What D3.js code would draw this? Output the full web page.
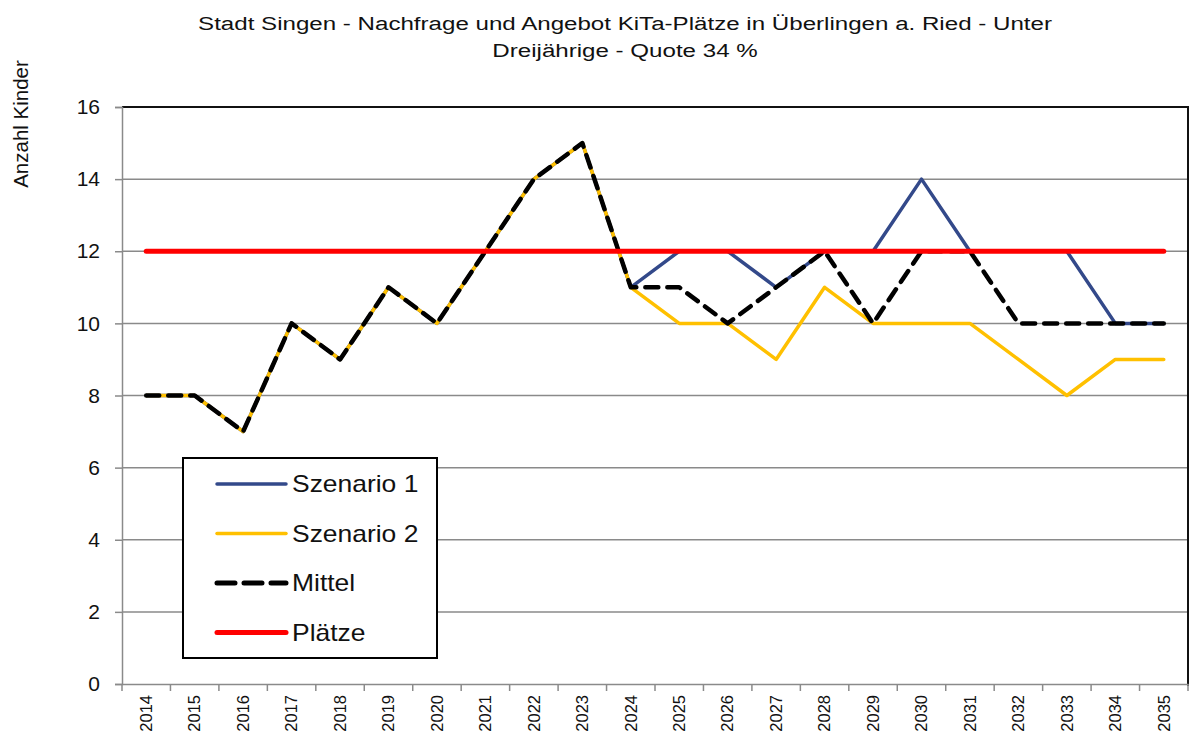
<!DOCTYPE html>
<html><head><meta charset="utf-8">
<script src="https://cdn.jsdelivr.net/npm/d3@7"></script>
<style>body{margin:0;background:#fff;} svg{display:block;font-family:Arial,"Liberation Sans",sans-serif;}</style>
</head><body>
<svg id="c" width="1193" height="744"></svg>
<script>
const years = ["2014","2015","2016","2017","2018","2019","2020","2021","2022","2023","2024","2025","2026","2027","2028","2029","2030","2031","2032","2033","2034","2035"];
const szenario1 = [8,8,7,10,9,11,10,12,14,15,11,12,12,11,12,12,14,12,12,12,10,10];
const szenario2 = [8,8,7,10,9,11,10,12,14,15,11,10,10,9,11,10,10,10,9,8,9,9];
const mittel    = [8,8,7,10,9,11,10,12,14,15,11,11,10,11,12,10,12,12,10,10,10,10];
const plaetze   = [12,12,12,12,12,12,12,12,12,12,12,12,12,12,12,12,12,12,12,12,12,12];
const yTicks = [0,2,4,6,8,10,12,14,16];
const titleLines = ["Stadt Singen - Nachfrage und Angebot KiTa-Plätze in Überlingen a. Ried - Unter","Dreijährige - Quote 34 %"];
const yLabel = "Anzahl Kinder";

const series = [
  {name:"Szenario 1", values:szenario1, color:"#33498A", width:3.5, dash:null, ldash:null},
  {name:"Szenario 2", values:szenario2, color:"#FFC000", width:3.5, dash:null, ldash:null},
  {name:"Mittel", values:mittel, color:"#000000", width:4.5, dash:"13,9", ldash:"18,9"},
  {name:"Plätze", values:plaetze, color:"#FF0000", width:5, dash:null, ldash:null}
];

const svg = d3.select("#c");
const L=122, R=1188, T=107, B=684;
const x = d3.scaleBand().domain(years).range([L,R]).padding(0);
const y = d3.scaleLinear().domain([0,16]).range([B,T]);

// gridlines
svg.append("g").selectAll("line").data(yTicks.filter(v=>v>0 && v<16)).join("line")
  .attr("x1",L).attr("x2",R).attr("y1",d=>y(d)).attr("y2",d=>y(d))
  .attr("stroke","#8a8a8a").attr("stroke-width",1.5);

// plot border top/right
svg.append("path").attr("d",`M${L},${T}H${R}V${B+2}`).attr("fill","none").attr("stroke","#111").attr("stroke-width",2);

// y axis
const ya = svg.append("g").attr("transform",`translate(${L},0)`)
  .call(d3.axisLeft(y).tickValues(yTicks).tickSize(7).tickPadding(15).tickFormat(d3.format("d")));
ya.select(".domain").attr("stroke","#8a8a8a").attr("stroke-width",1.5);
ya.selectAll(".tick line").attr("stroke","#8a8a8a").attr("stroke-width",1.5);
ya.selectAll("text").attr("font-size",21).attr("fill","#111").style("font-family","Arial, 'Liberation Sans', sans-serif");

// x axis
const xa = svg.append("g").attr("transform",`translate(0,${B})`)
  .call(d3.axisBottom(x).tickSize(0).tickPadding(0));
xa.select(".domain").attr("stroke","#8a8a8a").attr("stroke-width",1.5);
xa.selectAll(".tick text").attr("font-size",16.5).attr("fill","#111")
  .attr("text-anchor","end").attr("dy","0.35em")
  .attr("transform","translate(0,11) rotate(-90)")
  .attr("x",0).attr("y",0)
  .style("font-family","Arial, 'Liberation Sans', sans-serif");
// boundary ticks
const bounds = years.map(d=>x(d)).concat([R]);
svg.append("g").selectAll("line").data(bounds).join("line")
  .attr("x1",d=>d).attr("x2",d=>d).attr("y1",B).attr("y2",B+7)
  .attr("stroke","#8a8a8a").attr("stroke-width",1.5);

// lines
const line = d3.line().x((d,i)=>x(years[i])+x.bandwidth()/2).y(d=>y(d));
series.forEach(s=>{
  svg.append("path").datum(s.values).attr("d",line)
    .attr("fill","none").attr("stroke",s.color).attr("stroke-width",s.width)
    .attr("stroke-dasharray",s.dash).attr("stroke-linejoin","round")
    .attr("stroke-linecap","round");
});

// title
svg.append("g").selectAll("text").data(titleLines).join("text")
  .attr("transform",(d,i)=>`translate(625,${30+i*27}) scale(1.27,1)`).attr("text-anchor","middle")
  .attr("font-size",19).attr("fill","#111").text(d=>d);

// y label
svg.append("text").attr("transform","translate(28,124) rotate(-90)")
  .attr("text-anchor","middle").attr("font-size",20.5).attr("fill","#111").text(yLabel);

// legend
const lg = svg.append("g");
lg.append("rect").attr("x",183).attr("y",458).attr("width",254).attr("height",200)
  .attr("fill","#fff").attr("stroke","#000").attr("stroke-width",2);
series.forEach((s,i)=>{
  const yy = 484 + i*49.5;
  lg.append("line").attr("x1",217).attr("x2",286).attr("y1",yy).attr("y2",yy)
    .attr("stroke",s.color).attr("stroke-width",s.dash?5:s.width)
    .attr("stroke-dasharray",s.ldash).attr("stroke-linecap","round");
  lg.append("text").attr("transform",`translate(292,${yy}) scale(1.15,1)`).attr("dy","0.35em")
    .attr("font-size",23).attr("fill","#111").text(s.name);
});
</script>
</body></html>
